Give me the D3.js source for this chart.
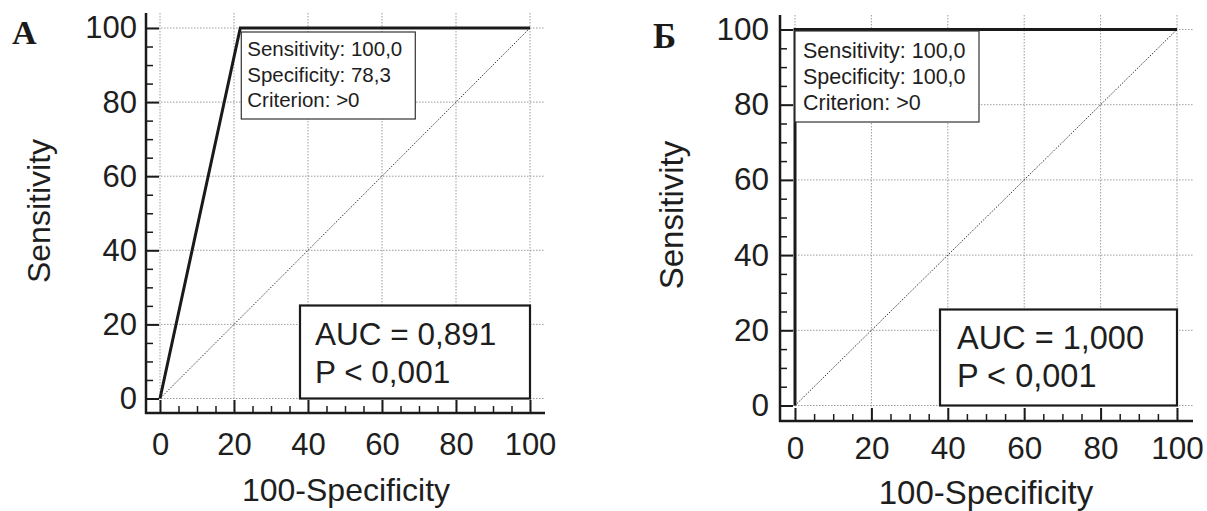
<!DOCTYPE html>
<html><head><meta charset="utf-8">
<script src="https://cdn.jsdelivr.net/npm/d3@7"></script>
<style>
html,body{margin:0;padding:0;background:#fff;}
svg{display:block;}
text{font-family:"Liberation Sans",Arial,sans-serif;fill:#1e1e1e;}
text.letter{font-family:"Liberation Serif","Times New Roman",serif;font-weight:bold;fill:#1a1a1a;}
</style></head>
<body>
<svg id="c" width="1207" height="511"></svg>
<script>
// ---- data ----
const tickValues = [0, 20, 40, 60, 80, 100];
const minorTickValues = [5, 10, 15, 25, 30, 35, 45, 50, 55, 65, 70, 75, 85, 90, 95];
const tickLabels = ["0", "20", "40", "60", "80", "100"];
const xTitle = "100-Specificity";
const yTitle = "Sensitivity";
const diagonalX = [0, 100];
const diagonalY = [0, 100];

const panelLetterA = "А";
const rocAx = [0, 21.7, 100];
const rocAy = [0, 100, 100];
const criterionA = [21.7, 100];
const infoA = ["Sensitivity: 100,0", "Specificity: 78,3", "Criterion: >0"];
const aucA = ["AUC = 0,891", "P < 0,001"];

const panelLetterB = "Б";
const rocBx = [0, 0, 100];
const rocBy = [0, 100, 100];
const criterionB = [0, 100];
const infoB = ["Sensitivity: 100,0", "Specificity: 100,0", "Criterion: >0"];
const aucB = ["AUC = 1,000", "P < 0,001"];

// ---- layout ----
const layouts = [
  {letter: panelLetterA, rx: rocAx, ry: rocAy, crit: criterionA, info: infoA, auc: aucA,
   x0: 160, x1: 530, y0: 398.5, y1: 28, axX: 146, axY: 413, axTop: 13, axRight: 545,
   letterPos: [12, 44], letterSize: 34,
   tickFont: 31, tickPadY: 9, tickPadX: 20, titleFont: 32,
   yTitlePos: [50, 211], xTitlePos: [346, 501],
   infoFont: 20.5, infoLine: 25.5, infoW: 174, infoH: 87, infoDx: 1, infoDy: 4, infoPad: 6, infoBase: 24,
   aucFont: 31.5, aucW: 230, aucH: 93, aucPad: 15, aucBase: [39, 77]},
  {letter: panelLetterB, rx: rocBx, ry: rocBy, crit: criterionB, info: infoB, auc: aucB,
   x0: 795, x1: 1177, y0: 405.5, y1: 29.5, axX: 780, axY: 421, axTop: 15, axRight: 1193,
   letterPos: [653, 48], letterSize: 35,
   tickFont: 31.5, tickPadY: 11, tickPadX: 16, titleFont: 33,
   yTitlePos: [683, 215], xTitlePos: [986, 504],
   infoFont: 21.5, infoLine: 26, infoW: 184, infoH: 91, infoDx: 0, infoDy: 1.5, infoPad: 8, infoBase: 27,
   aucFont: 32.5, aucW: 237, aucH: 96, aucPad: 17, aucBase: [39, 77]}
];

const svg = d3.select("#c");

layouts.forEach(L => {
  const g = svg.append("g");
  const x = d3.scaleLinear().domain([0, 100]).range([L.x0, L.x1]);
  const y = d3.scaleLinear().domain([0, 100]).range([L.y0, L.y1]);

  // grid
  const grid = g.append("g").attr("stroke", "#9c9c9c").attr("stroke-width", 1)
    .attr("stroke-dasharray", "1.5,1.5").attr("fill", "none");
  grid.selectAll(".gv").data(tickValues).join("line")
    .attr("x1", d => x(d)).attr("x2", d => x(d)).attr("y1", L.axTop).attr("y2", L.axY);
  grid.selectAll(".gh").data(tickValues).join("line")
    .attr("y1", d => y(d)).attr("y2", d => y(d)).attr("x1", L.axX).attr("x2", L.axRight);

  // diagonal reference
  g.append("path")
    .datum(diagonalX.map((d, i) => [d, diagonalY[i]]))
    .attr("d", d3.line().x(d => x(d[0])).y(d => y(d[1])))
    .attr("fill", "none").attr("stroke", "#333").attr("stroke-width", 1)
    .attr("stroke-dasharray", "1.5,1.5");

  // ROC curve
  g.append("path")
    .datum(L.rx.map((d, i) => [d, L.ry[i]]))
    .attr("d", d3.line().x(d => x(d[0])).y(d => y(d[1])))
    .attr("fill", "none").attr("stroke", "#1a1a1a").attr("stroke-width", 3)
    .attr("stroke-linejoin", "miter");

  // y axis
  const yAx = g.append("g").attr("transform", `translate(${L.axX},0)`)
    .call(d3.axisLeft(y).tickValues(tickValues).tickFormat((d, i) => tickLabels[i])
      .tickSize(-13).tickPadding(L.tickPadY));
  yAx.select(".domain").remove();
  yAx.selectAll("line").attr("stroke", "#1a1a1a").attr("stroke-width", 2);
  yAx.selectAll("text").style("font-size", L.tickFont + "px");
  const yMin = g.append("g").attr("transform", `translate(${L.axX},0)`)
    .call(d3.axisLeft(y).tickValues(minorTickValues).tickFormat("").tickSize(-7));
  yMin.select(".domain").remove();
  yMin.selectAll("line").attr("stroke", "#1a1a1a").attr("stroke-width", 1.5);

  // x axis
  const xAx = g.append("g").attr("transform", `translate(0,${L.axY})`)
    .call(d3.axisBottom(x).tickValues(tickValues).tickFormat((d, i) => tickLabels[i])
      .tickSize(-13).tickPadding(L.tickPadX));
  xAx.select(".domain").remove();
  xAx.selectAll("line").attr("stroke", "#1a1a1a").attr("stroke-width", 2);
  xAx.selectAll("text").style("font-size", L.tickFont + "px");
  const xMin = g.append("g").attr("transform", `translate(0,${L.axY})`)
    .call(d3.axisBottom(x).tickValues(minorTickValues).tickFormat("").tickSize(-7));
  xMin.select(".domain").remove();
  xMin.selectAll("line").attr("stroke", "#1a1a1a").attr("stroke-width", 1.5);

  // axis lines
  g.append("line").attr("x1", L.axX).attr("x2", L.axX).attr("y1", L.axTop).attr("y2", L.axY + 1)
    .attr("stroke", "#1a1a1a").attr("stroke-width", 2.5);
  g.append("line").attr("x1", L.axX - 1).attr("x2", L.axRight).attr("y1", L.axY).attr("y2", L.axY)
    .attr("stroke", "#1a1a1a").attr("stroke-width", 2.5);

  // info box at criterion point
  const bx = x(L.crit[0]) + L.infoDx, by = y(L.crit[1]) + L.infoDy;
  g.append("rect").attr("x", bx).attr("y", by).attr("width", L.infoW).attr("height", L.infoH)
    .attr("fill", "#fff").attr("stroke", "#333").attr("stroke-width", 1.2);
  g.selectAll(".info").data(L.info).join("text")
    .attr("x", bx + L.infoPad).attr("y", (d, i) => by + L.infoBase + i * L.infoLine)
    .style("font-size", L.infoFont + "px").text(d => d);

  // AUC box, anchored at bottom-right (100, 0)
  const ax = x(100) - L.aucW, ay = y(0) - L.aucH;
  g.append("rect").attr("x", ax).attr("y", ay).attr("width", L.aucW).attr("height", L.aucH)
    .attr("fill", "#fff").attr("stroke", "#1a1a1a").attr("stroke-width", 2.2);
  g.selectAll(".auc").data(L.auc).join("text")
    .attr("x", ax + L.aucPad).attr("y", (d, i) => ay + L.aucBase[i])
    .style("font-size", L.aucFont + "px").text(d => d);

  // titles
  g.append("text").attr("transform", `translate(${L.yTitlePos[0]},${L.yTitlePos[1]}) rotate(-90)`)
    .attr("text-anchor", "middle").style("font-size", L.titleFont + "px").text(yTitle);
  g.append("text").attr("x", L.xTitlePos[0]).attr("y", L.xTitlePos[1])
    .attr("text-anchor", "middle").style("font-size", L.titleFont + "px").text(xTitle);

  // panel letter
  g.append("text").attr("class", "letter").attr("x", L.letterPos[0]).attr("y", L.letterPos[1])
    .style("font-size", L.letterSize + "px").text(L.letter);
});
</script>
</body></html>
